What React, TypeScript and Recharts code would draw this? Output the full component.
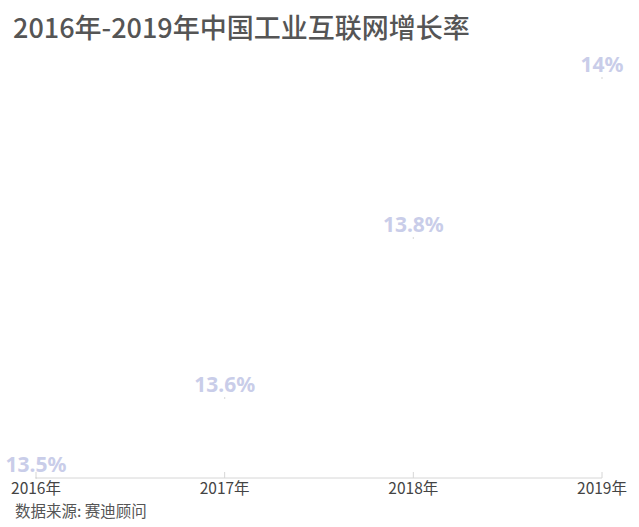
import React from 'react';
import { LineChart, Line, XAxis, YAxis, LabelList } from 'recharts';

const years = ['2016年', '2017年', '2018年', '2019年'];
const growth = [13.5, 13.6, 13.8, 14];

const data = years.map((year, i) => ({ year, growth: growth[i] }));

const CJK = '"Noto Sans CJK SC", "Noto Sans", sans-serif';

// year label under the axis, with a short tick pointing up
const YearTick = (props: any) => {
  const { x, y, payload } = props;
  return (
    <g>
      <line x1={x} y1={y - 6} x2={x} y2={y} stroke="#d6d6d6" />
      <text
        x={x}
        y={y + 16}
        textAnchor="middle"
        fontSize={15.5}
        fill="#444"
        fontFamily={CJK}
      >
        {payload.value}
      </text>
    </g>
  );
};

const App = () => {
  return (
    <div
      style={{
        position: 'absolute',
        left: 0,
        top: 0,
        width: 639,
        height: 527,
        background: '#fff',
        fontFamily: CJK,
      }}
    >
      <div
        style={{
          position: 'absolute',
          left: 13,
          top: 9,
          fontSize: 27,
          fontWeight: 500,
          color: '#555',
          lineHeight: '36px',
          whiteSpace: 'nowrap',
        }}
      >
        2016年-2019年中国工业互联网增长率
      </div>
      <LineChart
        width={639}
        height={527}
        data={data}
        margin={{ top: 78, right: 37, left: 36, bottom: 19 }}
      >
        <XAxis
          dataKey="year"
          height={30}
          axisLine={{ stroke: '#d6d6d6' }}
          tickLine={false}
          tickSize={0}
          tickMargin={0}
          tick={<YearTick />}
          interval={0}
          padding={{ left: 0, right: 0 }}
        />
        <YAxis hide domain={[13.5, 14]} />
        <Line
          dataKey="growth"
          stroke="none"
          dot={{ r: 0.8, fill: '#cfcfcf', stroke: 'none' }}
          isAnimationActive={false}
        >
          <LabelList
            dataKey="growth"
            position="top"
            offset={6}
            formatter={(v: any) => `${v}%`}
            style={{
              fill: '#c9cde9',
              fontSize: 21,
              fontWeight: 700,
              fontFamily: '"Noto Sans", sans-serif',
            }}
          />
        </Line>
      </LineChart>
      <div
        style={{
          position: 'absolute',
          left: 15,
          top: 503,
          fontSize: 15.5,
          color: '#555',
          lineHeight: '14px',
          whiteSpace: 'nowrap',
        }}
      >
        数据来源: 赛迪顾问
      </div>
    </div>
  );
};

export default App;
